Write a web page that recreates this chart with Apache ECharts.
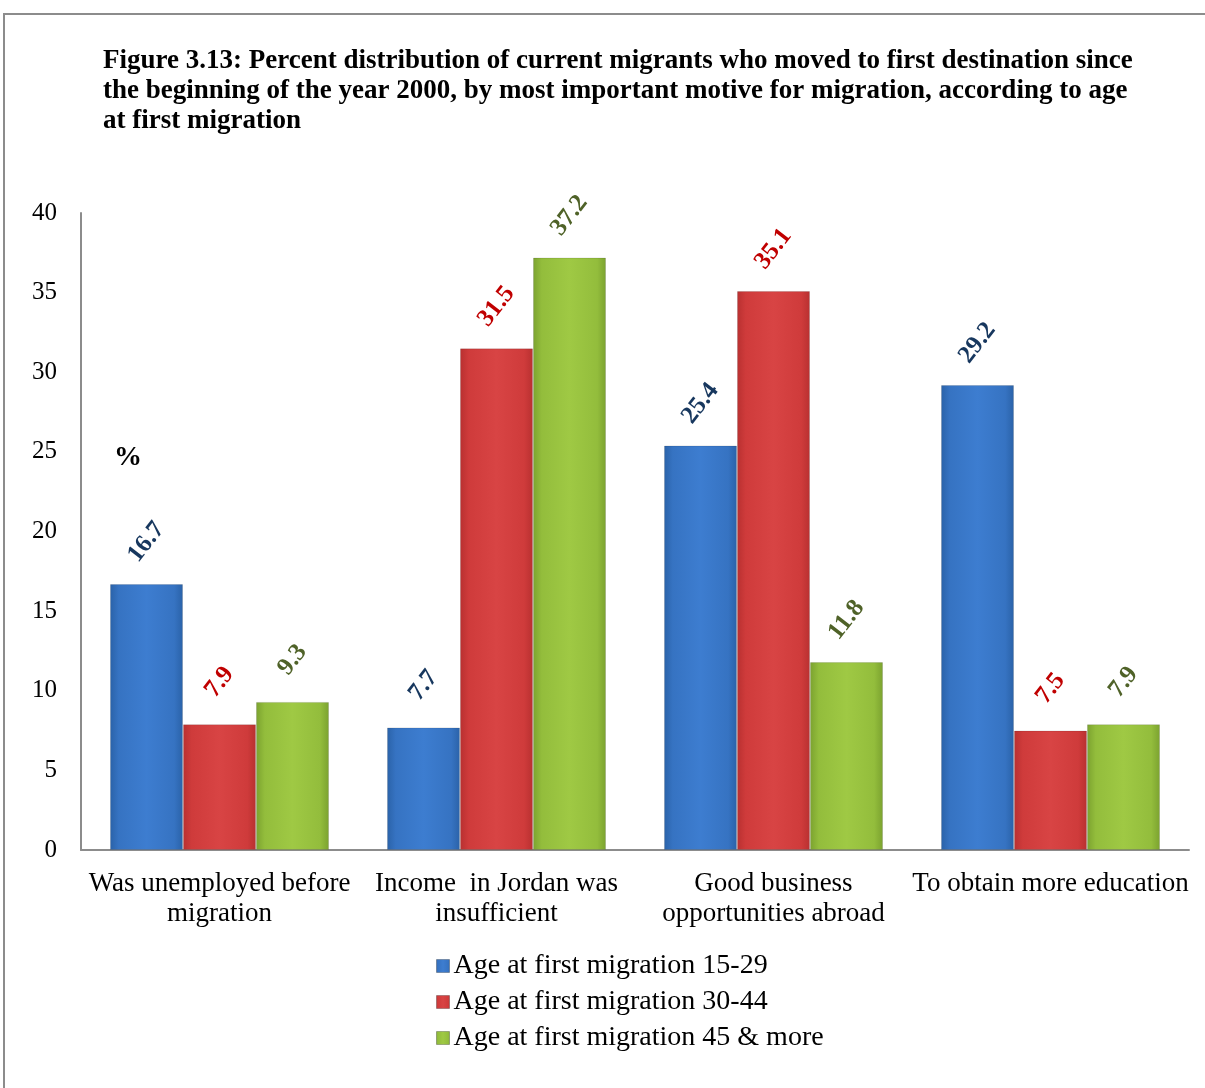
<!DOCTYPE html>
<html>
<head>
<meta charset="utf-8">
<script src="https://cdn.jsdelivr.net/npm/echarts@6/dist/echarts.min.js"></script>
<style>
  html, body { margin: 0; padding: 0; background: #ffffff; }
  #chart { width: 1205px; height: 1088px; }
</style>
</head>
<body>
<div id="chart"></div>
<script>
// Motives for migration (x-axis categories)
const categories = [
  'Was unemployed before\nmigration',
  'Income  in Jordan was\ninsufficient',
  'Good business\nopportunities abroad',
  'To obtain more education'
];

// Percent of migrants by age at first migration
const seriesNames = [
  'Age at first migration 15-29',
  'Age at first migration 30-44',
  'Age at first migration 45 & more'
];
const age15to29 = [16.7, 7.7, 25.4, 29.2];
const age30to44 = [7.9, 31.5, 35.1, 7.5];
const age45plus = [9.3, 37.2, 11.8, 7.9];

// Y-axis range and step
const yMin = 0;
const yMax = 40;
const yStep = 5;

const titleLines = [
  'Figure 3.13: Percent distribution of current migrants who moved to first destination since',
  'the beginning of the year 2000, by most important motive for migration, according to age',
  'at first migration'
];

const serif = '"Liberation Serif", "Times New Roman", serif';

function bevel(edge, mid, light) {
  return {
    type: 'linear', x: 0, y: 0, x2: 1, y2: 0,
    colorStops: [
      { offset: 0, color: edge },
      { offset: 0.12, color: mid },
      { offset: 0.5, color: light },
      { offset: 0.88, color: mid },
      { offset: 1, color: edge }
    ]
  };
}

const palette = [
  { fill: bevel('#2a62a8', '#3673c2', '#3d7dd0'), label: '#17375e', legend: '#2f6bb5' },
  { fill: bevel('#b83030', '#cf3b3b', '#d84444'), label: '#c00000', legend: '#c43636' },
  { fill: bevel('#7ba22f', '#93bd3c', '#9fc944'), label: '#4f6228', legend: '#86ad36' }
];

const values = [age15to29, age30to44, age45plus];

const series = values.map((vals, i) => ({
  name: seriesNames[i],
  type: 'bar',
  data: vals,
  barWidth: 73,
  barGap: '0%',
  itemStyle: {
    color: palette[i].fill,
    borderColor: 'rgba(0,0,0,0.12)',
    borderWidth: 1
  },
  label: {
    show: true,
    position: 'top',
    distance: 42,
    rotate: 52,
    align: 'center',
    verticalAlign: 'middle',
    color: palette[i].label,
    fontFamily: serif,
    fontWeight: 'bold',
    fontSize: 25,
    formatter: p => p.value.toFixed(1)
  }
}));

const chart = echarts.init(document.getElementById('chart'), null, { renderer: 'canvas' });

chart.setOption({
  backgroundColor: '#ffffff',
  animation: false,
  color: palette.map(p => p.legend),
  grid: { left: 81, right: 16, top: 213, bottom: 238, containLabel: false },
  graphic: [
    {
      type: 'rect',
      shape: { x: 4, y: 14, width: 1400, height: 1300 },
      style: { fill: 'none', stroke: '#8c8c8c', lineWidth: 2 },
      silent: true
    },
    {
      type: 'text',
      left: 103,
      top: 46,
      style: {
        text: titleLines.join('\n'),
        font: 'bold 27px ' + serif,
        lineHeight: 30,
        fill: '#000000'
      }
    },
    {
      type: 'text',
      left: 114,
      top: 444,
      style: {
        text: '%',
        font: 'bold 28px ' + serif,
        fill: '#000000'
      }
    }
  ],
  legend: {
    orient: 'vertical',
    left: 436,
    top: 952,
    padding: 0,
    itemWidth: 13,
    itemHeight: 13,
    itemGap: 8,
    itemStyle: { borderColor: 'rgba(0,0,0,0.25)', borderWidth: 1 },
    icon: 'rect',
    textStyle: {
      fontFamily: serif,
      fontSize: 28,
      lineHeight: 28,
      color: '#000000',
      padding: [0, 0, 0, -1]
    },
    data: seriesNames
  },
  xAxis: {
    type: 'category',
    data: categories,
    axisLine: { show: true, lineStyle: { color: '#8c8c8c', width: 2 } },
    axisTick: { show: false },
    axisLabel: {
      interval: 0,
      margin: 19,
      fontFamily: serif,
      fontSize: 27,
      lineHeight: 30,
      color: '#000000'
    }
  },
  yAxis: {
    type: 'value',
    min: yMin,
    max: yMax,
    interval: yStep,
    axisLine: { show: true, lineStyle: { color: '#8c8c8c', width: 2 } },
    axisTick: { show: false },
    splitLine: { show: false },
    axisLabel: {
      margin: 24,
      fontFamily: serif,
      fontSize: 25,
      color: '#000000'
    }
  },
  series: series
});
</script>
</body>
</html>
